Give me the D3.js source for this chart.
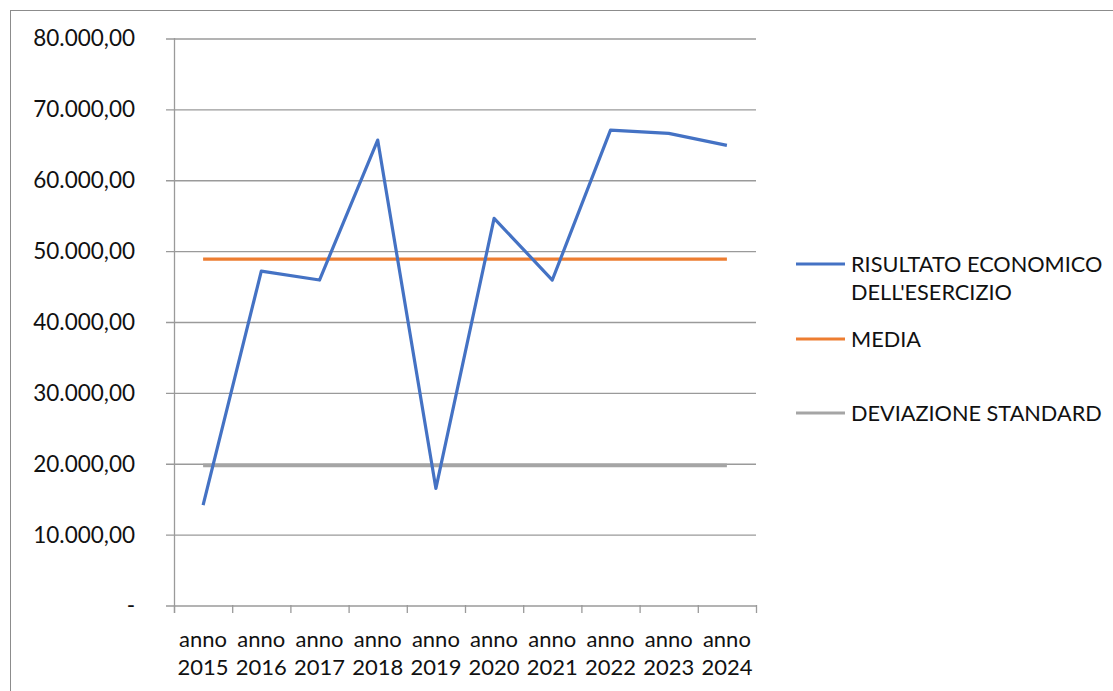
<!DOCTYPE html>
<html>
<head>
<meta charset="utf-8">
<script src="https://cdn.jsdelivr.net/npm/d3@7"></script>
<style>
  html, body { margin: 0; padding: 0; background: #fff; }
  svg text { font-family: Lato, "Open Sans", sans-serif; fill: #111; }
</style>
</head>
<body>
<svg id="chart" width="1113" height="691"></svg>
<script>
// Yearly economic result, with its mean and standard deviation
const years = ["2015", "2016", "2017", "2018", "2019", "2020", "2021", "2022", "2023", "2024"];
const risultato = [14100, 47100, 45850, 65600, 16450, 54550, 45850, 67000, 66550, 64850];
const media = [48800, 48800, 48800, 48800, 48800, 48800, 48800, 48800, 48800, 48800];
const deviazione = [19700, 19700, 19700, 19700, 19700, 19700, 19700, 19700, 19700, 19700];
const yTicks = [0, 10000, 20000, 30000, 40000, 50000, 60000, 70000, 80000];
const seriesNames = [["RISULTATO ECONOMICO", "DELL'ESERCIZIO"], ["MEDIA"], ["DEVIAZIONE STANDARD"]];
const seriesColors = ["#4472C4", "#ED7D31", "#A5A5A5"];

const svg = d3.select("#chart");
const plot = { left: 174, right: 756, top: 38, bottom: 605 };

// Outer chart frame
svg.append("rect")
  .attr("x", 10.5).attr("y", 10.5)
  .attr("width", 1130).attr("height", 700)
  .attr("fill", "none").attr("stroke", "#8c8c8c").attr("stroke-width", 1);

const x = d3.scaleBand().domain(years).range([plot.left, plot.right]);
const y = d3.scaleLinear().domain([0, 80000]).range([plot.bottom, plot.top]);

// Italian number format: thousands ".", decimals ","
const itFmt = d3.formatLocale({ decimal: ",", thousands: ".", grouping: [3], currency: ["€", ""] }).format(",.2f");

// Horizontal gridlines with small ticks left of the axis
const yAxis = d3.axisLeft(y).tickValues(yTicks)
  .tickSize(-(plot.right - plot.left + 8)).tickPadding(0)
  .tickFormat(d => d === 0 ? "-" : itFmt(d));
const gy = svg.append("g").attr("transform", `translate(${plot.left - 8},0)`).call(yAxis);
gy.select(".domain").remove();
gy.selectAll(".tick line").attr("stroke", "#9a9a9a").attr("stroke-width", 1.3)
  .attr("transform", "translate(0,0.5)");
gy.selectAll(".tick text")
  .attr("x", -31).attr("dy", "0.35em")
  .style("font-size", "22.5px").style("fill", "#111")
  .attr("text-anchor", "end");

// Vertical axis line
svg.append("line")
  .attr("x1", plot.left + 0.5).attr("x2", plot.left + 0.5)
  .attr("y1", plot.top).attr("y2", plot.bottom + 8)
  .attr("stroke", "#9a9a9a").attr("stroke-width", 1.3);

// Category axis ticks at band boundaries
const bounds = years.map(d => x(d)).concat([x(years[years.length - 1]) + x.bandwidth()]);
svg.append("g").selectAll("line").data(bounds).join("line")
  .attr("x1", d => d + 0.5).attr("x2", d => d + 0.5)
  .attr("y1", plot.bottom).attr("y2", plot.bottom + 8)
  .attr("stroke", "#9a9a9a").attr("stroke-width", 1.3);

// Category labels on two lines
const xl = svg.append("g").selectAll("text").data(years).join("text")
  .attr("x", d => x(d) + x.bandwidth() / 2)
  .attr("y", 647)
  .attr("text-anchor", "middle")
  .style("font-size", "22px");
xl.append("tspan").attr("x", d => x(d) + x.bandwidth() / 2).text("anno");
xl.append("tspan").attr("x", d => x(d) + x.bandwidth() / 2).attr("dy", 28).text(d => d);

// Series lines
const cx = d => x(d) + x.bandwidth() / 2;
const line = d3.line().x((v, i) => cx(years[i])).y(v => y(v));

svg.append("path").datum(deviazione).attr("d", line)
  .attr("fill", "none").attr("stroke", seriesColors[2]).attr("stroke-width", 3.8);
svg.append("path").datum(media).attr("d", line)
  .attr("fill", "none").attr("stroke", seriesColors[1]).attr("stroke-width", 3.2);
svg.append("path").datum(risultato).attr("d", line)
  .attr("fill", "none").attr("stroke", seriesColors[0]).attr("stroke-width", 3.2)
  .attr("stroke-linejoin", "round");

// Legend
const legendY = [264, 339, 413];
const lg = svg.append("g");
seriesNames.forEach((lines, i) => {
  lg.append("line")
    .attr("x1", 796).attr("x2", 845)
    .attr("y1", legendY[i]).attr("y2", legendY[i])
    .attr("stroke", seriesColors[i]).attr("stroke-width", 3.2);
  const t = lg.append("text").attr("x", 851).attr("y", legendY[i]).attr("dy", "0.35em")
    .style("font-size", "21.7px");
  lines.forEach((s, j) => {
    t.append("tspan").attr("x", 851).attr("dy", j === 0 ? "0.35em" : 28).text(s);
  });
});
</script>
</body>
</html>
